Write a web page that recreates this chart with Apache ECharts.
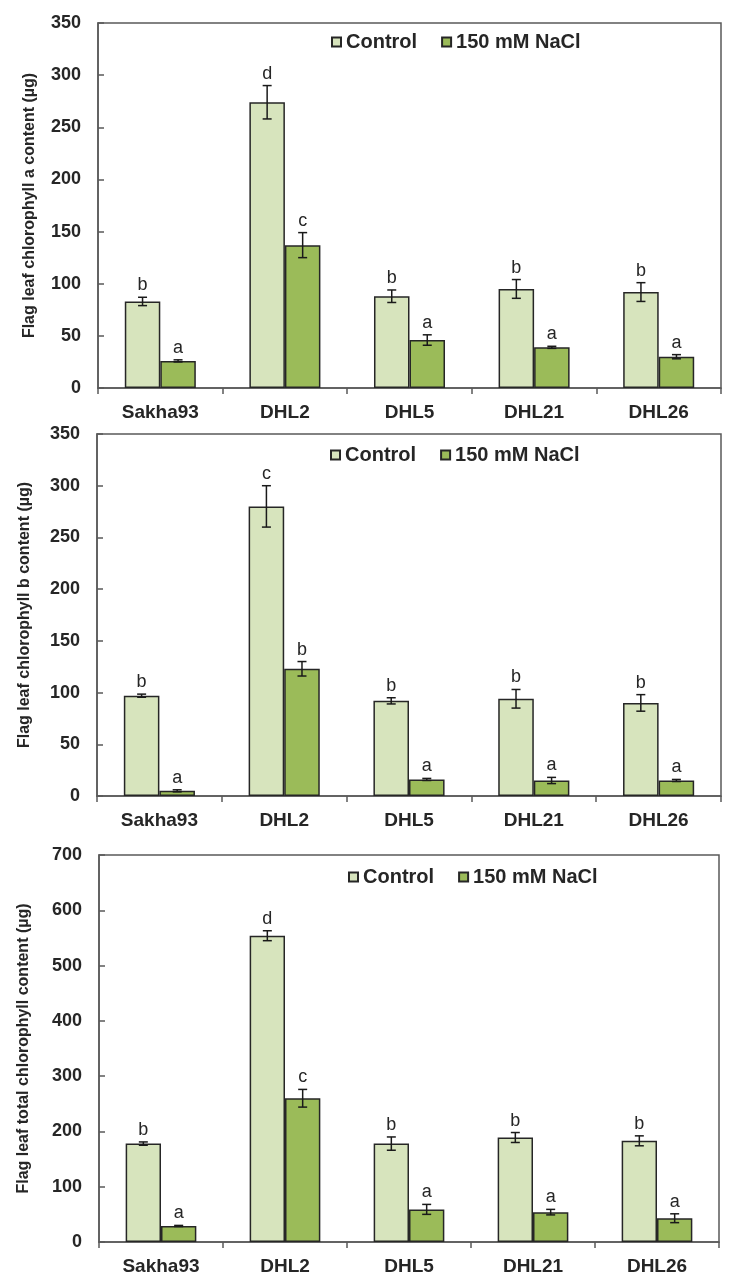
<!DOCTYPE html>
<html>
<head>
<meta charset="utf-8">
<script src="https://cdn.jsdelivr.net/npm/echarts@6/dist/echarts.min.js"></script>
<style>
  html, body { margin: 0; padding: 0; background: #fff; }
  #chart { width: 732px; height: 1287px; }
</style>
</head>
<body>
<div id="chart"></div>
<script>
const categories = ['Sakha93', 'DHL2', 'DHL5', 'DHL21', 'DHL26'];
const seriesNames = ['Control', '150 mM NaCl'];

// chlorophyll a
const chlAControl = [83, 274, 88, 95, 92];
const chlAControlErr = [4, 16, 6, 9, 9];
const chlAControlLetters = ['b', 'd', 'b', 'b', 'b'];
const chlANacl = [26, 137, 46, 39, 30];
const chlANaclErr = [1, 12, 5, 1, 2];
const chlANaclLetters = ['a', 'c', 'a', 'a', 'a'];

// chlorophyll b
const chlBControl = [97, 280, 92, 94, 90];
const chlBControlErr = [1.5, 20, 3, 9, 8];
const chlBControlLetters = ['b', 'c', 'b', 'b', 'b'];
const chlBNacl = [5, 123, 16, 15, 15];
const chlBNaclErr = [1, 7, 1, 3, 1];
const chlBNaclLetters = ['a', 'b', 'a', 'a', 'a'];

// total chlorophyll
const totalControl = [178, 554, 178, 189, 183];
const totalControlErr = [3, 9, 12, 9, 9];
const totalControlLetters = ['b', 'd', 'b', 'b', 'b'];
const totalNacl = [29, 260, 59, 54, 43];
const totalNaclErr = [1, 16, 9, 5, 8];
const totalNaclLetters = ['a', 'c', 'a', 'a', 'a'];

const axisNames = [
  'Flag leaf chlorophyll a content (\u00b5g)',
  'Flag leaf chlorophyll b content (\u00b5g)',
  'Flag leaf total chlorophyll content (\u00b5g)'
];
const yMax = [350, 350, 700];
const yStep = [50, 50, 100];

const panels = [
  [[chlAControl, chlAControlErr, chlAControlLetters], [chlANacl, chlANaclErr, chlANaclLetters]],
  [[chlBControl, chlBControlErr, chlBControlLetters], [chlBNacl, chlBNaclErr, chlBNaclLetters]],
  [[totalControl, totalControlErr, totalControlLetters], [totalNacl, totalNaclErr, totalNaclLetters]]
];

const font = 'Liberation Sans, Arial, sans-serif';
const textColor = '#262626';
const axisColor = '#595959';
const fills = ['#d7e4bd', '#9bbb59'];
const gapPct = 0.43;

const grids = [
  { left: 98, right: 11, top: 23, height: 365 },
  { left: 97, right: 11, top: 434, height: 362 },
  { left: 99, right: 13, top: 855, height: 387 }
];
const nameGaps = [60, 64, 67];
const legendPos = [
  { left: 331, top: 32 },
  { left: 330, top: 445 },
  { left: 348, top: 867 }
];

const myChart = echarts.init(document.getElementById('chart'));

const errorRenderer = (side, vals, errs, letters) => (params, api) => {
  const i = api.value(0);
  const v = vals[params.dataIndex];
  const e = errs[params.dataIndex];
  const band = api.size([1, 0])[0];
  const barW = band * (1 - gapPct) / 2;
  const base = api.coord([i, v]);
  const cx = base[0] + side * barW / 2;
  const top = api.coord([i, v + e])[1];
  const bot = api.coord([i, v - e])[1];
  const cap = 4.5;
  const st = { stroke: '#1a1a1a', lineWidth: 1.5 };
  return {
    type: 'group',
    children: [
      { type: 'line', shape: { x1: cx, y1: top, x2: cx, y2: bot }, style: st },
      { type: 'line', shape: { x1: cx - cap, y1: top, x2: cx + cap, y2: top }, style: st },
      { type: 'line', shape: { x1: cx - cap, y1: bot, x2: cx + cap, y2: bot }, style: st },
      {
        type: 'text',
        style: {
          text: letters[params.dataIndex], x: cx, y: top - 3,
          align: 'center', verticalAlign: 'bottom',
          font: '18px ' + font, fill: textColor
        }
      }
    ]
  };
};

const series = [];
panels.forEach((panel, p) => {
  panel.forEach(([vals, errs, letters], s) => {
    series.push({
      name: seriesNames[s],
      type: 'bar',
      xAxisIndex: p,
      yAxisIndex: p,
      data: vals,
      barGap: '0%',
      barCategoryGap: (gapPct * 100) + '%',
      itemStyle: { color: fills[s], borderColor: '#262626', borderWidth: 1.5 },
      emphasis: { disabled: true }
    });
  });
  panel.forEach(([vals, errs, letters], s) => {
    series.push({
      name: 'err' + p + s,
      type: 'custom',
      xAxisIndex: p,
      yAxisIndex: p,
      z: 5,
      clip: false,
      data: vals.map((v, i) => [i, v]),
      renderItem: errorRenderer(s === 0 ? -1 : 1, vals, errs, letters)
    });
  });
});

const option = {
  animation: false,
  backgroundColor: '#fff',
  grid: grids.map(g => Object.assign({ show: true, borderColor: axisColor, borderWidth: 1.5, backgroundColor: 'transparent' }, g)),
  legend: legendPos.map(pos => ({
    data: seriesNames,
    left: pos.left,
    top: pos.top,
    padding: 0,
    icon: 'rect',
    itemWidth: 9,
    itemHeight: 9,
    itemGap: 24,
    textStyle: { fontFamily: font, fontWeight: 'bold', fontSize: 20, color: textColor }
  })),
  xAxis: grids.map((g, p) => ({
    type: 'category',
    gridIndex: p,
    data: categories,
    axisLine: { lineStyle: { color: axisColor, width: 1.5 } },
    axisTick: { show: true, length: 6, lineStyle: { color: axisColor, width: 1.5 } },
    axisLabel: { margin: 15, fontFamily: font, fontWeight: 'bold', fontSize: 19, color: textColor }
  })),
  yAxis: grids.map((g, p) => ({
    type: 'value',
    gridIndex: p,
    min: 0,
    max: yMax[p],
    interval: yStep[p],
    name: axisNames[p],
    nameLocation: 'middle',
    nameGap: nameGaps[p],
    nameTextStyle: { fontFamily: font, fontWeight: 'bold', fontSize: 16, color: textColor },
    splitLine: { show: false },
    axisLine: { show: true, lineStyle: { color: axisColor, width: 1.5 } },
    axisTick: { show: true, inside: true, length: 6, lineStyle: { color: axisColor, width: 1.5 } },
    axisLabel: { margin: 17, fontFamily: font, fontWeight: 'bold', fontSize: 18, color: textColor }
  })),
  series: series
};

option && myChart.setOption(option);
</script>
</body>
</html>
